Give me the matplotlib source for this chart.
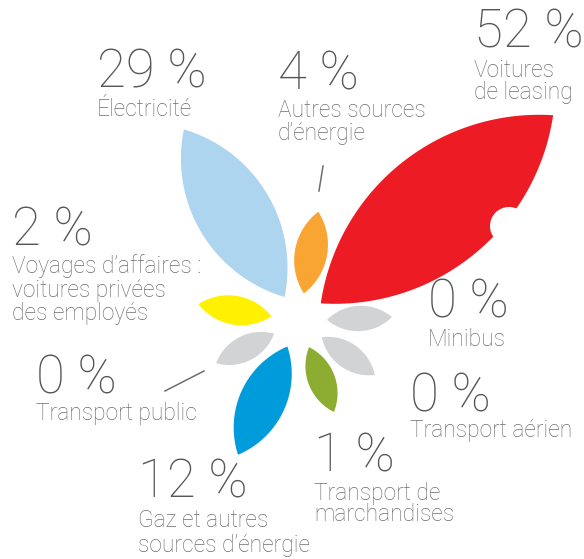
import numpy as np
import matplotlib
matplotlib.use("Agg")
import matplotlib.pyplot as plt
from matplotlib.patches import Polygon, Circle

# data (share of CO2 emissions, in %)
categories = ["Minibus", "Voitures\nde leasing", "Autres sources\nd\u2019énergie",
              "Électricité", "Voyages d\u2019affaires :\nvoitures privées\ndes employés",
              "Transport public", "Gaz et autres\nsources d\u2019énergie",
              "Transport de\nmarchandises", "Transport aérien"]
values = [0, 52, 4, 29, 2, 0, 12, 1, 0]

# layout / style
angles = [2.4, 39, 80, 121, 170.5, 207, 245.5, 291, 324.6]  # petal direction, deg
colors = ["#D1D3D4", "#ED1C24", "#F9A533", "#AED5F0", "#FFF100",
          "#D1D3D4", "#009BDA", "#8CAD32", "#D1D3D4"]
# label anchor (x, baseline of the number, baseline of first label line), px
label_pos = [(428, 318, 346), (474, 47, 77), (278, 90, 117), (97, 88, 116),
             (12, 245, 273), (36, 393, 420), (138, 497, 527), (314, 472, 500),
             (410, 412, 437)]
line_gap = [22, 22, 23, 23, 23.5, 23, 25, 21, 23]

cx, cy = 299, 321     # centre of the flower (px)
r0 = 28               # gap around the centre
width_ratio = 0.39


def petal_length(v):
    return 65 + 4.5 * v


def petal(angle, length):
    a = np.radians(angle)
    u = np.array([np.cos(a), -np.sin(a)])   # screen y goes down
    n = np.array([-u[1], u[0]])
    base = np.array([cx, cy]) + r0 * u
    mid = base + u * length / 2
    h = width_ratio * length / 2
    R = (h ** 2 + (length / 2) ** 2) / (2 * h)
    s = np.linspace(-length / 2, length / 2, 80)
    off = np.sqrt(R ** 2 - s ** 2) - (R - h)
    side1 = mid + np.outer(s, u) + np.outer(off, n)
    side2 = mid + np.outer(s[::-1], u) - np.outer(off[::-1], n)
    return np.vstack([side1, side2])


plt.rcParams['font.family'] = ['Roboto', 'DejaVu Sans']

fig = plt.figure(figsize=(5.84, 5.59), dpi=100)
ax = fig.add_axes([0, 0, 1, 1])
ax.set_xlim(0, 584)
ax.set_ylim(559, 0)
ax.axis('off')

for v, ang, col in zip(values, angles, colors):
    ax.add_patch(Polygon(petal(ang, petal_length(v)), closed=True,
                         facecolor=col, edgecolor='none'))

# bite out of the big red petal
ax.add_patch(Circle((509, 226), 19, facecolor='white', edgecolor='none'))

# connector lines
ax.plot([319, 323], [191, 166], color='#6D6E71', lw=1.1)
ax.plot([165, 204], [391, 371], color='#6D6E71', lw=1.1)

for cat, v, (x, yb, yl), gap in zip(categories, values, label_pos, line_gap):
    ax.text(x, yb, f"{v} %", fontsize=38, fontweight='light',
            color='#555658', ha='left', va='baseline')
    for i, line in enumerate(cat.split("\n")):
        ax.text(x, yl + i * gap, line, fontsize=16.4, fontweight='light',
                color='#6D6E71', ha='left', va='baseline')

fig.savefig('out.png', dpi=100)
